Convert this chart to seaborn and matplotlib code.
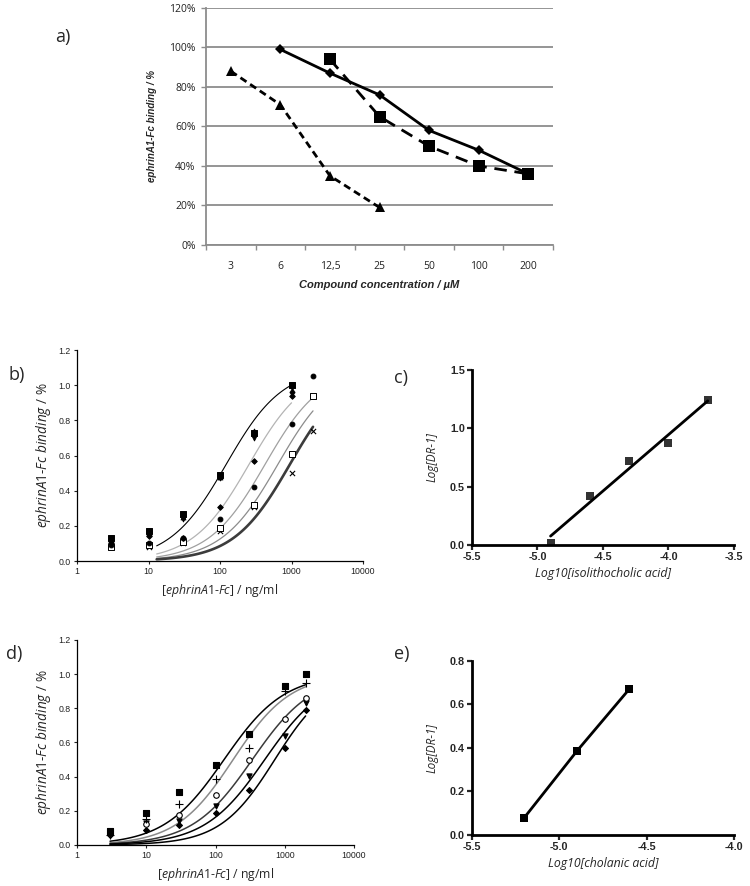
import numpy as np
import seaborn as sns
import matplotlib.pyplot as plt

# ---- a) ephrinA1-Fc binding vs compound concentration ----
conc_labels = ["3", "6", "12,5", "25", "50", "100", "200"]
diamond_conc = ["6", "12,5", "25", "50", "100", "200"]
diamond_pct = [99, 87, 76, 58, 48, 36]
square_conc = ["12,5", "25", "50", "100", "200"]
square_pct = [94, 65, 50, 40, 36]
triangle_conc = ["3", "6", "12,5", "25"]
triangle_pct = [88, 71, 35, 19]

# ---- b) dose response (isolithocholic acid) ----
b_dose = [3, 10, 30, 100, 300, 1000, 2000]
b_square = [0.13, 0.17, 0.27, 0.49, 0.73, 1.00]
b_tri_up = [0.12, 0.16, 0.25, 0.48, 0.74, 0.97]
b_tri_down = [0.11, 0.15, 0.24, 0.47, 0.70, 0.95]
b_diamond = [0.10, 0.14, 0.13, 0.31, 0.57, 0.94]
b_circle = [0.09, 0.10, 0.13, 0.24, 0.42, 0.78, 1.05]
b_open_sq = [0.08, 0.09, 0.11, 0.19, 0.32, 0.61, 0.94]
b_cross = [0.08, 0.08, 0.10, 0.17, 0.31, 0.50, 0.74]
# fitted curves (top, hill slope, EC50, last dose)
b_fit_top = [1.1, 1.1, 1.1, 1.1, 1.1]
b_fit_hill = [1.1, 1.1, 1.1, 1.1, 1.1]
b_fit_ec50 = [122, 255, 427, 645, 950]
b_fit_end = [1000, 1000, 2000, 2000, 2000]
b_fit_color = ["black", "#b4b4b4", "#a0a0a0", "#8c8c8c", "#3c3c3c"]
b_fit_lw = [0.8, 0.9, 0.9, 0.9, 1.9]

# ---- c) Schild plot, isolithocholic acid ----
c_logconc = [-4.9, -4.6, -4.3, -4.0, -3.7]
c_logdr = [0.02, 0.42, 0.72, 0.87, 1.24]

# ---- d) dose response (cholanic acid) ----
d_dose = [3, 10, 30, 100, 300, 1000, 2000]
d_square = [0.08, 0.19, 0.31, 0.47, 0.65, 0.93, 1.00]
d_plus = [0.06, 0.15, 0.24, 0.385, 0.57, 0.90, 0.95]
d_open_circ = [0.07, 0.12, 0.175, 0.29, 0.495, 0.74, 0.86]
d_tri_down = [0.06, 0.13, 0.14, 0.23, 0.405, 0.635, 0.83]
d_diamond = [0.06, 0.09, 0.115, 0.186, 0.32, 0.565, 0.79]
d_fit_top = [1.0, 1.0, 1.0, 1.0, 1.0]
d_fit_hill = [1.0, 1.05, 1.0, 1.0, 1.1]
d_fit_ec50 = [133, 180, 340, 515, 719]
d_fit_color = ["black", "#8a8a8a", "#3a3a3a", "black", "black"]

# ---- e) Schild plot, cholanic acid ----
e_logconc = [-5.2, -4.9, -4.6]
e_logdr = [0.08, 0.385, 0.67]


def hill(x, top, n, ec50):
    return top * x ** n / (x ** n + ec50 ** n)


sns.set_style("white")
plt.rcParams["font.family"] = ["Open Sans", "DejaVu Sans"]
plt.rcParams["axes.unicode_minus"] = False
plt.rcParams["mathtext.fontset"] = "custom"
plt.rcParams["mathtext.it"] = "Open Sans:italic"
plt.rcParams["mathtext.rm"] = "Open Sans"

fig = plt.figure(figsize=(7.5, 8.86), dpi=100)

# ================= panel a =================
ax = fig.add_axes([0.2747, 0.7235, 0.4627, 0.2675])
grid_gray = "#8c8c8c"
for cats, vals, mk, ms, ls in [
    (diamond_conc, diamond_pct, "D", 5.5, "-"),
    (square_conc, square_pct, "s", 8.5, (0, (4.5, 2.8))),
    (triangle_conc, triangle_pct, "^", 7.5, (0, (2.6, 1.6))),
]:
    xs = [conc_labels.index(c) for c in cats]
    sns.lineplot(x=xs, y=vals, ax=ax, color="black", marker=mk, markersize=ms,
                 linewidth=2, linestyle=ls, markeredgewidth=0, zorder=3)
ax.set_xlim(-0.5, 6.5)
ax.set_ylim(0, 120)
ax.set_yticks(range(0, 121, 20))
ax.set_yticklabels([f"{v}%" for v in range(0, 121, 20)], fontsize=7.5, color="#222222")
ax.yaxis.grid(True, color=grid_gray, linewidth=1.3)
ax.set_axisbelow(True)
ax.set_xticks(np.arange(-0.5, 7, 1))
ax.set_xticklabels([])
ax.set_xticks(range(7), minor=True)
ax.set_xticklabels(conc_labels, minor=True, fontsize=7.5, color="#222222")
ax.tick_params(axis="x", which="major", length=3.5, color=grid_gray, width=1, direction="out", bottom=True)
ax.tick_params(axis="x", which="minor", length=0, pad=11.5, bottom=True)
ax.tick_params(axis="y", length=3.5, color=grid_gray, width=1, direction="out", left=True, pad=4)
for s in ["top", "right"]:
    ax.spines[s].set_visible(False)
for s in ["left", "bottom"]:
    ax.spines[s].set_color(grid_gray)
    ax.spines[s].set_linewidth(1.3)
ax.set_ylabel("ephrinA1-Fc binding / %", fontsize=7, fontweight="bold", style="italic",
              family="Liberation Sans", labelpad=9)
ax.set_xlabel("Compound concentration / µM", fontsize=8, fontweight="bold", style="italic",
              family="Liberation Sans", labelpad=6)


def dose_axes(ax):
    ax.set_xscale("log")
    ax.set_xlim(1, 10000)
    ax.set_ylim(0, 1.2)
    ax.set_xticks([1, 10, 100, 1000, 10000])
    ax.set_xticklabels(["1", "10", "100", "1000", "10000"], family="Liberation Sans", fontsize=6.3)
    ax.xaxis.set_minor_locator(plt.NullLocator())
    ax.set_yticks(np.arange(0, 1.21, 0.2))
    ax.set_yticklabels([f"{v:.1f}" for v in np.arange(0, 1.21, 0.2)], family="Liberation Sans", fontsize=6.3)
    ax.tick_params(length=2.5, width=0.8, direction="out", left=True, bottom=True, pad=2, colors="#222222")
    for s in ["top", "right"]:
        ax.spines[s].set_visible(False)
    for s in ["left", "bottom"]:
        ax.spines[s].set_color("black")
        ax.spines[s].set_linewidth(0.9)
    ax.set_ylabel(r"$\mathit{ephrinA1}$-$\mathit{Fc\ binding}$ / %", fontsize=9.8, labelpad=4)
    ax.set_xlabel(r"$\mathit{[ephrinA1}$-$\mathit{Fc]}$ / ng/ml", fontsize=8.8, labelpad=4)


def schild_axes(ax, xlim, xticks, ylim, yticks, ydec, xlabel):
    ax.set_xlim(*xlim)
    ax.set_ylim(*ylim)
    ax.set_xticks(xticks)
    ax.set_xticklabels([f"{v:.1f}" for v in xticks], family="Liberation Sans", fontweight="bold", fontsize=7.8)
    ax.set_yticks(yticks)
    ax.set_yticklabels([f"{v:.{ydec}f}" for v in yticks], family="Liberation Sans", fontweight="bold", fontsize=7.8)
    ax.tick_params(length=3.5, width=1.6, direction="out", left=True, bottom=True, pad=1.5)
    for s in ["top", "right"]:
        ax.spines[s].set_visible(False)
    for s in ["left", "bottom"]:
        ax.spines[s].set_color("black")
        ax.spines[s].set_linewidth(2)
    ax.set_ylabel("Log[DR-1]", fontsize=8.5, style="italic", labelpad=8)
    ax.set_xlabel(xlabel, fontsize=8.8, style="italic", labelpad=4)


# ================= panel b =================
ax = fig.add_axes([0.1027, 0.3668, 0.3813, 0.2381])
for top, n, ec, end, col, lw in zip(b_fit_top, b_fit_hill, b_fit_ec50, b_fit_end, b_fit_color, b_fit_lw):
    xs = np.logspace(np.log10(13), np.log10(end), 120)
    sns.lineplot(x=xs, y=hill(xs, top, n, ec), ax=ax, color=col, linewidth=lw)
for vals, mk, fc, sz in [
    (b_cross, "x", "black", 14),
    (b_open_sq, "s", "white", 14),
    (b_circle, "o", "black", 12),
    (b_diamond, "D", "black", 8),
    (b_tri_down, "v", "black", 12),
    (b_tri_up, "^", "black", 12),
    (b_square, "s", "black", 14),
]:
    xs = b_dose[:len(vals)]
    if mk == "x":
        sns.scatterplot(x=xs, y=vals, ax=ax, marker="x", color="black", s=sz, linewidth=0.8, zorder=4)
    else:
        sns.scatterplot(x=xs, y=vals, ax=ax, marker=mk, facecolor=fc, edgecolor="black",
                        s=sz, linewidth=0.7, zorder=4)
dose_axes(ax)

# ================= panel c =================
ax = fig.add_axes([0.6293, 0.3849, 0.3493, 0.198])
sns.regplot(x=c_logconc, y=c_logdr, ax=ax, ci=None, color="black", marker="s",
            scatter_kws={"s": 26, "linewidths": 0}, line_kws={"linewidth": 2})
schild_axes(ax, (-5.5, -3.5), [-5.5, -5.0, -4.5, -4.0, -3.5], (0, 1.5), [0, 0.5, 1.0, 1.5], 1,
            "Log10[isolithocholic acid]")

# ================= panel d =================
ax = fig.add_axes([0.1027, 0.0463, 0.3693, 0.2314])
for top, n, ec, col in zip(d_fit_top, d_fit_hill, d_fit_ec50, d_fit_color):
    xs = np.logspace(np.log10(3), np.log10(2000), 120)
    sns.lineplot(x=xs, y=hill(xs, top, n, ec), ax=ax, color=col, linewidth=1.1)
for vals, mk, fc, sz in [
    (d_diamond, "D", "black", 9),
    (d_tri_down, "v", "black", 14),
    (d_open_circ, "o", "white", 16),
    (d_plus, "+", "black", 26),
    (d_square, "s", "black", 16),
]:
    if mk == "+":
        sns.scatterplot(x=d_dose, y=vals, ax=ax, marker="+", color="black", s=sz, linewidth=0.8, zorder=4)
    else:
        sns.scatterplot(x=d_dose, y=vals, ax=ax, marker=mk, facecolor=fc, edgecolor="black",
                        s=sz, linewidth=0.8, zorder=4)
dose_axes(ax)

# ================= panel e =================
ax = fig.add_axes([0.6293, 0.0576, 0.3493, 0.1964])
sns.lineplot(x=e_logconc, y=e_logdr, ax=ax, color="black", linewidth=2, marker="s",
             markersize=6, markeredgewidth=0)
schild_axes(ax, (-5.5, -4.0), [-5.5, -5.0, -4.5, -4.0], (0, 0.8), [0, 0.2, 0.4, 0.6, 0.8], 1,
            "Log10[cholanic acid]")

# panel letters
for lbl, x, y in [("a)", 0.074, 0.958), ("b)", 0.012, 0.577), ("c)", 0.525, 0.573),
                  ("d)", 0.008, 0.262), ("e)", 0.525, 0.262)]:
    fig.text(x, y, lbl, fontsize=13, ha="left", va="center")

fig.savefig("out.png", dpi=100)
